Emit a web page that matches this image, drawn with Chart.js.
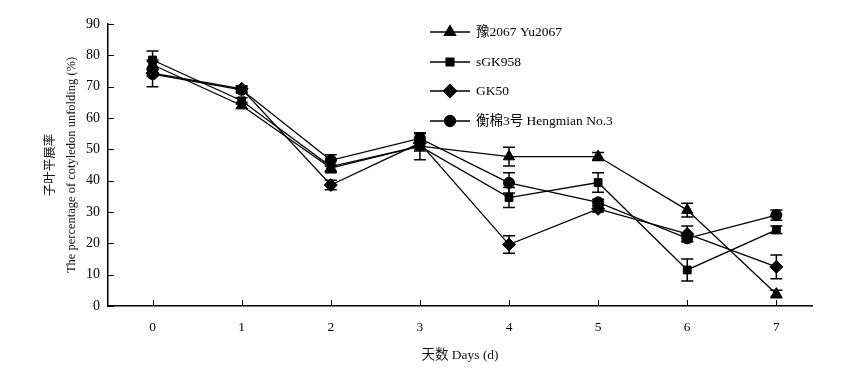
<!DOCTYPE html>
<html>
<head>
<meta charset="utf-8">
<script src="https://cdn.jsdelivr.net/npm/chart.js@4.4.1/dist/chart.umd.min.js"></script>
<style>
  html, body { margin: 0; padding: 0; background: #fff; }
  #wrap { width: 851px; height: 382px; }
</style>
</head>
<body>
<div id="wrap"><canvas id="c" width="851" height="382"></canvas></div>
<script>
// ---- data ----
const days = [0, 1, 2, 3, 4, 5, 6, 7];
const seriesNames = ['豫2067 Yu2067', 'sGK958', 'GK50', '衡棉3号 Hengmian No.3'];
const yu2067   = [77.0, 64.0, 44.0, 51.0, 47.7, 47.7, 30.6, 3.8];
const sgk958   = [78.5, 65.5, 44.5, 51.0, 34.6, 39.4, 11.5, 24.3];
const gk50     = [74.3, 69.3, 38.6, 52.0, 19.6, 31.0, 23.0, 12.5];
const hengmian = [74.0, 69.0, 46.5, 53.5, 39.3, 33.1, 21.6, 29.0];
const yu2067Err   = [1.5, 1.0, 1.0, 1.5, 3.0, 1.3, 2.2, 1.2];
const sgk958Err   = [2.9, 1.0, 2.0, 4.3, 3.2, 3.1, 3.5, 1.2];
const gk50Err     = [1.0, 1.0, 1.5, 1.0, 2.8, 1.0, 2.5, 3.8];
const hengmianErr = [4.0, 1.0, 1.8, 1.5, 3.2, 1.0, 1.0, 1.6];
const yTicks = [0, 10, 20, 30, 40, 50, 60, 70, 80, 90];
const markerStyles = ['triangle', 'rect', 'rectRot', 'circle'];

const FONT = "'Liberation Serif', 'Noto Sans CJK SC', serif";
const allValues = [yu2067, sgk958, gk50, hengmian];
const allErrs = [yu2067Err, sgk958Err, gk50Err, hengmianErr];
const radii = [6.5, 5.5, 6.5, 5.5];

const datasets = allValues.map((vals, i) => ({
  label: seriesNames[i],
  data: days.map((d, j) => ({ x: d, y: vals[j] })),
  borderColor: '#000',
  backgroundColor: '#000',
  borderWidth: 1.3,
  pointStyle: markerStyles[i],
  pointRadius: radii[i],
  pointBackgroundColor: '#000',
  pointBorderColor: '#000',
  pointBorderWidth: 1,
  tension: 0,
  errs: allErrs[i]
}));

const errorBars = {
  id: 'errorBars',
  beforeDatasetsDraw(chart) {
    const ctx = chart.ctx, xs = chart.scales.x, ys = chart.scales.y;
    ctx.save();
    ctx.strokeStyle = '#000';
    ctx.lineWidth = 1.5;
    chart.data.datasets.forEach(ds => {
      ds.data.forEach((p, j) => {
        const e = ds.errs[j];
        const px = xs.getPixelForValue(p.x);
        const top = ys.getPixelForValue(p.y + e);
        const bot = ys.getPixelForValue(p.y - e);
        ctx.beginPath();
        ctx.moveTo(px, top); ctx.lineTo(px, bot);
        ctx.moveTo(px - 6, top); ctx.lineTo(px + 6, top);
        ctx.moveTo(px - 6, bot); ctx.lineTo(px + 6, bot);
        ctx.stroke();
      });
    });
    ctx.restore();
  }
};

const tickMarks = {
  id: 'tickMarks',
  afterDraw(chart) {
    const ctx = chart.ctx, xs = chart.scales.x, ys = chart.scales.y;
    const a = chart.chartArea;
    ctx.save();
    ctx.strokeStyle = '#000';
    ctx.lineWidth = 1;
    ctx.beginPath();
    days.forEach(d => {
      const px = Math.round(xs.getPixelForValue(d)) + 0.5;
      ctx.moveTo(px, a.bottom); ctx.lineTo(px, a.bottom - 6);
    });
    yTicks.forEach(v => {
      const py = Math.round(ys.getPixelForValue(v)) + 0.5;
      ctx.moveTo(a.left, py); ctx.lineTo(a.left + 6, py);
    });
    ctx.stroke();
    ctx.restore();
  }
};

const legendBox = {
  id: 'legendBox',
  afterDraw(chart) {
    const ctx = chart.ctx;
    const rows = [32, 62, 91, 121];
    ctx.save();
    chart.data.datasets.forEach((ds, i) => {
      const y = rows[i];
      ctx.strokeStyle = '#000';
      ctx.fillStyle = '#000';
      ctx.lineWidth = 1.3;
      ctx.beginPath();
      ctx.moveTo(430, y); ctx.lineTo(470, y);
      ctx.stroke();
      Chart.helpers.drawPoint(ctx, {
        pointStyle: ds.pointStyle, radius: ds.pointRadius, borderWidth: 1
      }, 450, y);
      ctx.fillStyle = '#000';
      ctx.font = "13.5px " + FONT;
      ctx.textBaseline = 'middle';
      ctx.textAlign = 'left';
      ctx.fillText(ds.label, 476, y);
    });
    ctx.restore();
  }
};

new Chart(document.getElementById('c'), {
  type: 'line',
  data: { datasets },
  plugins: [errorBars, tickMarks, legendBox],
  options: {
    responsive: false,
    animation: false,
    layout: { padding: { left: 0, right: 39, top: 24, bottom: 0 } },
    plugins: {
      legend: { display: false },
      tooltip: { enabled: false }
    },
    scales: {
      x: {
        type: 'linear',
        min: -0.5,
        max: 7.4,
        afterFit(scale) { scale.height = 76; },
        afterBuildTicks(scale) { scale.ticks = days.map(v => ({ value: v })); },
        grid: { display: false, drawTicks: false },
        border: { display: true, color: '#000', width: 1.5 },
        ticks: {
          color: '#000',
          font: { family: FONT, size: 13.5 },
          padding: 13,
          maxRotation: 0,
          autoSkip: false
        },
        title: {
          display: true,
          text: '天数 Days (d)',
          color: '#111',
          font: { family: FONT, size: 13.5 },
          padding: { top: 10, bottom: 18 }
        }
      },
      y: {
        min: 0,
        max: 90,
        afterFit(scale) { scale.width = 108; },
        afterBuildTicks(scale) { scale.ticks = yTicks.map(v => ({ value: v })); },
        grid: { display: false, drawTicks: false },
        border: { display: true, color: '#000', width: 1.5 },
        ticks: {
          color: '#000',
          font: { family: FONT, size: 14 },
          padding: 8
        },
        title: {
          display: true,
          text: ['子叶平展率', 'The percentage of cotyledon unfolding (%)'],
          color: '#111',
          font: { family: FONT, size: 12.5, lineHeight: 1.7 },
          padding: { top: 40, bottom: 0 }
        }
      }
    }
  }
});
</script>
</body>
</html>
